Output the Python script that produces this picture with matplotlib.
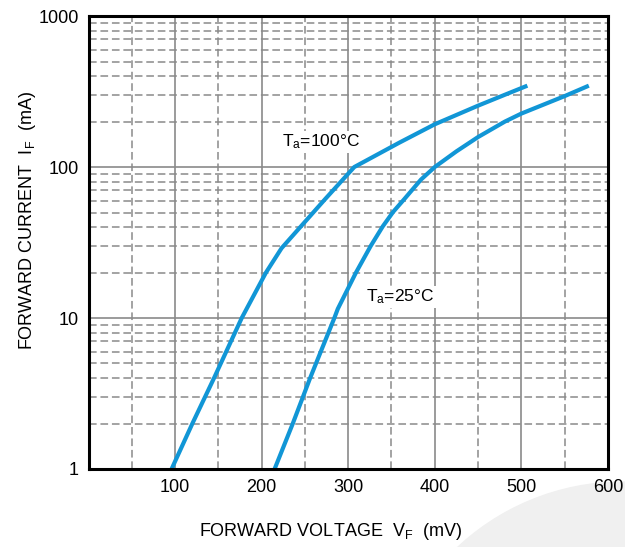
import matplotlib
matplotlib.use("Agg")
import matplotlib.pyplot as plt
from matplotlib.patches import Ellipse
from matplotlib.ticker import LogLocator, NullFormatter

plt.rcParams["font.family"] = ["Liberation Sans", "DejaVu Sans"]
plt.rcParams["mathtext.default"] = "regular"

# forward voltage (mV) / forward current (mA)
V_100C = [96, 120, 145, 177, 205, 223, 273, 307, 359, 400, 450, 479, 507]
I_100C = [1, 2, 4, 10, 20, 29, 61, 100, 145, 192, 255, 298, 346]

V_25C = [215, 236, 256, 284, 288, 309, 326, 340, 352, 365, 384, 400, 425, 450, 481, 500, 550, 578]
I_25C = [1, 2, 4, 10, 11.5, 20, 30, 40.5, 50.5, 61.5, 82.5, 100, 127, 158, 200, 226, 295, 346]

X_TICKS = [100, 200, 300, 400, 500, 600]
X_MINOR = [50, 150, 250, 350, 450, 550]
Y_TICKS = [1, 10, 100, 1000]
Y_LABELS = ["1", "10", "100", "1000"]

BLUE = "#1196d6"
GRID = "#8a8a8a"

fig = plt.figure(figsize=(6.25, 5.47), dpi=100)

# faint watermark arc in the lower right corner, kept behind everything
fig.patches.append(Ellipse((623 / 625, 1 - 724 / 547), 484 / 625, 484 / 547,
                           transform=fig.transFigure, color="#f0f0f0", zorder=-5))

ax = fig.add_axes([0.1416, 0.1426, 0.831, 0.828])
ax.patch.set_alpha(1.0)
ax.set_xlim(0, 600)
ax.set_yscale("log")
ax.set_ylim(1, 1000)

ax.set_xticks(X_TICKS)
ax.set_xticklabels([str(v) for v in X_TICKS])
ax.set_xticks(X_MINOR, minor=True)
ax.set_yticks(Y_TICKS)
ax.set_yticklabels(Y_LABELS)
ax.yaxis.set_minor_locator(LogLocator(base=10, subs=range(2, 10)))
ax.yaxis.set_minor_formatter(NullFormatter())

ax.set_axisbelow(True)
ax.grid(which="major", color=GRID, lw=1.2, ls="-")
ax.grid(which="minor", color=GRID, lw=1.1, ls=(0, (5, 2.5)))
ax.tick_params(which="both", length=0, labelsize=13, pad=7, colors="black")
for s in ax.spines.values():
    s.set_linewidth(2.2)

ax.plot(V_100C, I_100C, color=BLUE, lw=3, solid_capstyle="butt")
ax.plot(V_25C, I_25C, color=BLUE, lw=3, solid_capstyle="butt")

box = dict(facecolor="white", edgecolor="none", pad=1)
ax.text(223, 147, "T$_{a}$=100°C", fontsize=12.5, va="center", ha="left", bbox=box)
ax.text(321, 13.8, "T$_{a}$=25°C", fontsize=12.5, va="center", ha="left", bbox=box)

fig.text(28 / 625, 1 - 220 / 547, "FORWARD CURRENT  I$_{F}$  (mA)", rotation=90,
         ha="center", va="center", fontsize=13)
fig.text(331 / 625, 1 - 531.7 / 547, "FORWARD VOLTAGE  V$_{F}$  (mV)",
         ha="center", va="center", fontsize=13)

fig.savefig("out.png", dpi=100)
